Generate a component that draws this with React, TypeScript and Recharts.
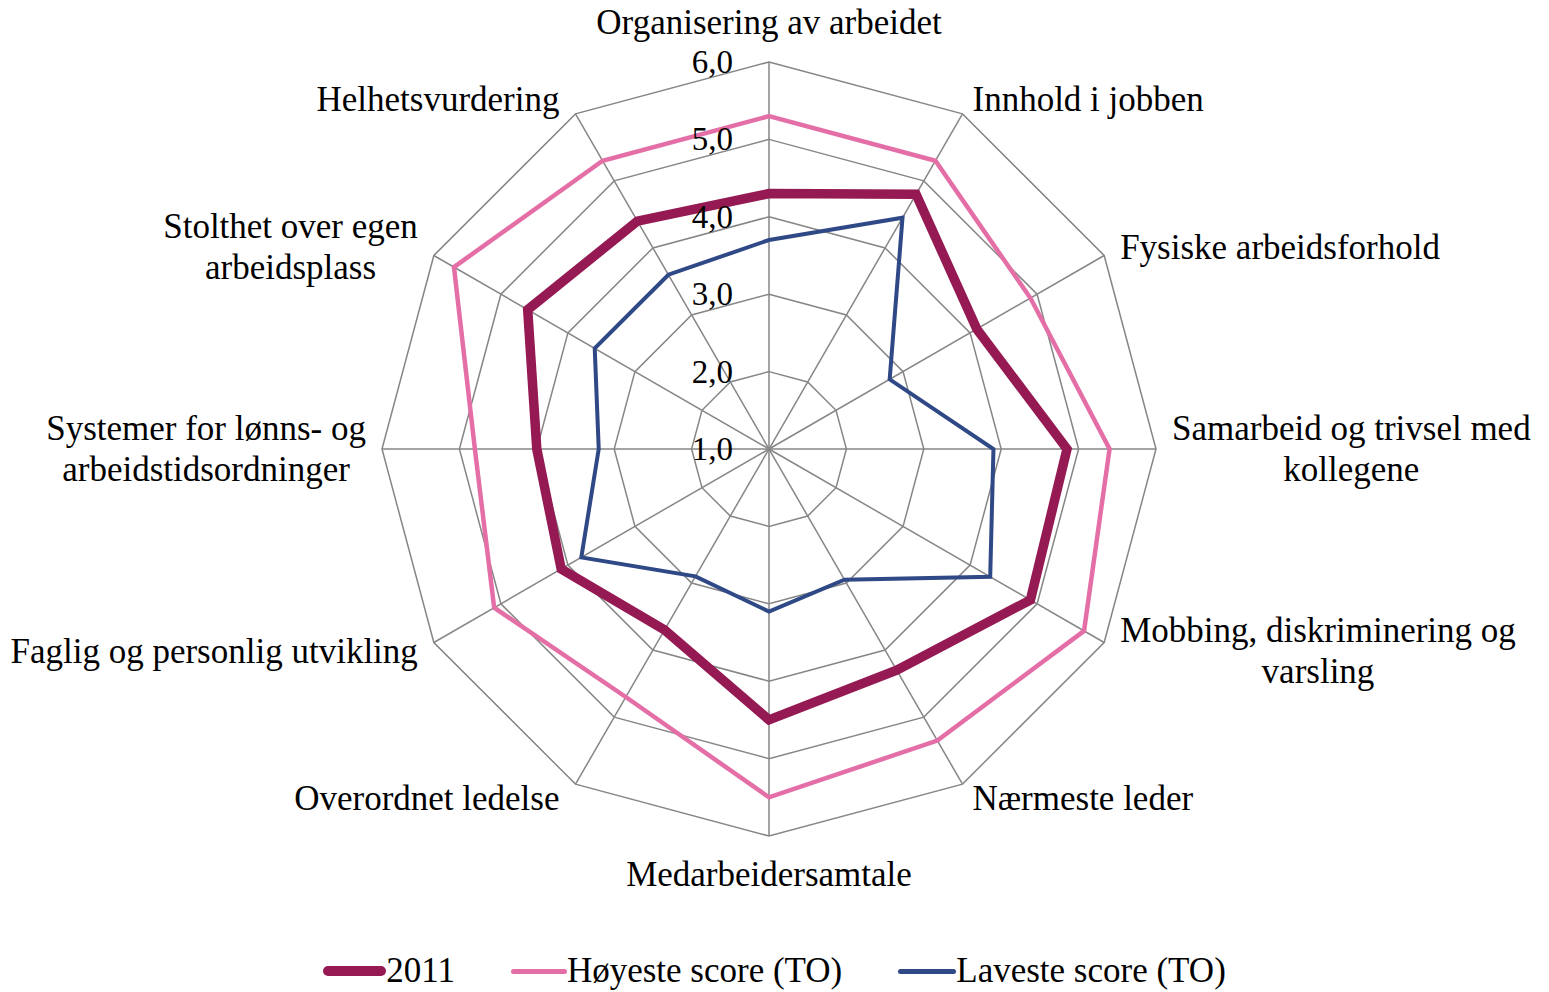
import React from 'react';
import { RadarChart, Radar, PolarGrid, PolarAngleAxis, PolarRadiusAxis, Legend } from 'recharts';

const categories = [
  'Organisering av arbeidet',
  'Innhold i jobben',
  'Fysiske arbeidsforhold',
  'Samarbeid og trivsel med\nkollegene',
  'Mobbing, diskriminering og\nvarsling',
  'Nærmeste leder',
  'Medarbeidersamtale',
  'Overordnet ledelse',
  'Faglig og personlig utvikling',
  'Systemer for lønns- og\narbeidstidsordninger',
  'Stolthet over egen\narbeidsplass',
  'Helhetsvurdering',
];

const score2011 = [4.3, 4.8, 4.1, 4.85, 4.9, 4.3, 4.5, 3.7, 4.1, 4.0, 4.6, 4.4];
const highestScore = [5.3, 5.3, 4.9, 5.4, 5.7, 5.35, 5.5, 4.7, 5.1, 4.8, 5.7, 5.3];
const lowestScore = [3.7, 4.45, 2.8, 3.9, 4.3, 2.95, 3.1, 2.9, 3.8, 3.2, 3.6, 3.6];

const radiusTicks = [1, 2, 3, 4, 5, 6];

const seriesNames = ['2011', 'Høyeste score (TO)', 'Laveste score (TO)'];

const data = categories.map((category, i) => ({
  category,
  y2011: score2011[i],
  high: highestScore[i],
  low: lowestScore[i],
}));

const W = 1549;
const H = 992;
const CX = 769;
const CY = 449;
const R = 387;
const FONT = '"Liberation Serif", "Times New Roman", serif';
const LABEL_SIZE = 35;
const LINE_GAP = 41;

const MAROON = '#951a53';
const PINK = '#e46fa6';
const NAVY = '#2f4886';

let ctx: CanvasRenderingContext2D | null = null;
function textWidth(s: string, size: number) {
  if (!ctx) ctx = document.createElement('canvas').getContext('2d');
  if (!ctx) return s.length * size * 0.45;
  ctx.font = `${size}px "Liberation Serif"`;
  return ctx.measureText(s).width;
}

function AngleTick(props: any) {
  const { payload } = props;
  const label = String(payload.value);
  const idx = categories.indexOf(label);
  const lines = label.split('\n');
  const theta = (idx * 2 * Math.PI) / categories.length;
  const s = Math.sin(theta);
  const c = Math.cos(theta);
  const vx = CX + R * s;
  const vy = CY - R * c;

  if (Math.abs(s) < 0.01) {
    const y = c > 0 ? vy - 40 : vy + 38;
    return (
      <text x={CX} y={y} textAnchor="middle" dominantBaseline="central" fontSize={LABEL_SIZE} fontFamily={FONT} fill="#000">
        {label}
      </text>
    );
  }

  const widths = lines.map((l) => textWidth(l, LABEL_SIZE));
  const blockW = Math.max(...widths);
  // right-hand labels near the top/bottom sit a little closer to the spoke
  const gap = s > 0 && Math.abs(s) < 0.6 ? 10 : 16;
  const left = s > 0 ? vx + gap : vx - gap - blockW;
  const mid = left + blockW / 2;
  const yc = vy - 17 * c;
  return (
    <g>
      {lines.map((l, i) => (
        <text
          key={i}
          x={mid}
          y={yc + (i - (lines.length - 1) / 2) * LINE_GAP}
          textAnchor="middle"
          dominantBaseline="central"
          fontSize={LABEL_SIZE}
          fontFamily={FONT}
          fill="#000"
        >
          {l}
        </text>
      ))}
    </g>
  );
}

function RadiusTick(props: any) {
  const { x, y, payload } = props;
  return (
    <text x={x - 36} y={y} textAnchor="end" dominantBaseline="central" fontSize={33} fontFamily={FONT} fill="#000">
      {Number(payload.value).toFixed(1).replace('.', ',')}
    </text>
  );
}

const legendItems = [
  { name: seriesNames[0], color: MAROON, w: 63, h: 10 },
  { name: seriesNames[1], color: PINK, w: 56, h: 5 },
  { name: seriesNames[2], color: NAVY, w: 58, h: 5 },
];

function LegendContent() {
  return (
    <div style={{ display: 'flex', justifyContent: 'center', alignItems: 'center', gap: 56, height: 40 }}>
      {legendItems.map((it) => (
        <div key={it.name} style={{ display: 'flex', alignItems: 'center' }}>
          <span style={{ display: 'inline-block', width: it.w, height: it.h, borderRadius: it.h / 2, background: it.color }} />
          <span style={{ fontFamily: FONT, fontSize: LABEL_SIZE, color: '#000', lineHeight: '40px' }}>{it.name}</span>
        </div>
      ))}
    </div>
  );
}

export default function App() {
  return (
    <div style={{ position: 'absolute', left: 0, top: 0, width: W, height: H, background: '#fff' }}>
      <RadarChart width={W} height={H} data={data} cx={CX} cy={CY} outerRadius={R} margin={{ top: 0, right: 0, bottom: 0, left: 0 }}>
        <PolarGrid gridType="polygon" stroke="#868686" strokeWidth={1.5} />
        <PolarAngleAxis dataKey="category" tick={<AngleTick />} tickLine={false} axisLine={false} />
        <PolarRadiusAxis
          angle={90}
          domain={[1, 6]}
          ticks={radiusTicks}
          tickCount={6}
          type="number"
          axisLine={false}
          tickLine={false}
          tick={<RadiusTick />}
        />
        <Radar name={seriesNames[0]} dataKey="y2011" stroke={MAROON} strokeWidth={9.5} fill="none" fillOpacity={0} dot={false} isAnimationActive={false} />
        <Radar name={seriesNames[1]} dataKey="high" stroke={PINK} strokeWidth={4.5} fill="none" fillOpacity={0} dot={false} isAnimationActive={false} />
        <Radar name={seriesNames[2]} dataKey="low" stroke={NAVY} strokeWidth={4} fill="none" fillOpacity={0} dot={false} isAnimationActive={false} />
        <Legend content={<LegendContent />} wrapperStyle={{ top: 951, left: 0, width: W }} />
      </RadarChart>
    </div>
  );
}
